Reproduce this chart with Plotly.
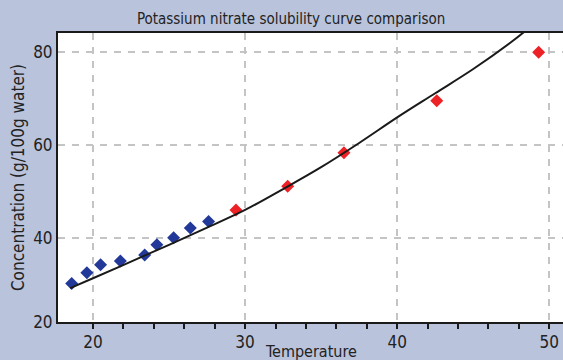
import plotly.graph_objects as go

# Data
temp_blue = [18.6, 19.6, 20.5, 21.8, 23.4, 24.2, 25.3, 26.4, 27.6]
conc_blue = [30.3, 32.6, 34.3, 35.1, 36.4, 38.6, 40.1, 42.2, 43.6]
temp_red = [29.4, 32.8, 36.5, 42.6, 49.3]
conc_red = [46.1, 51.2, 58.4, 69.6, 80.0]
curve_temp = [18.5, 20, 22.5, 25, 27.5, 30, 32.5, 35, 37.5, 40, 42.5, 45, 47.5, 48.5]
curve_conc = [29.3, 31.4, 35.0, 38.6, 42.3, 46.1, 50.6, 55.3, 60.5, 66.0, 71.2, 76.4, 82.2, 84.8]

x_major = [20, 30, 40, 50]
x_minor = [20, 22, 24, 26, 28, 30, 32, 34, 36, 38, 40, 42, 44, 46, 48, 50]
y_ticks = [22.0, 40, 60, 80]
y_ticktext = ["20", "40", "60", "80"]
x_range = [17.7, 50.9]
y_range = [22.0, 84.15]

FONT = "Liberation Sans Narrow, DejaVu Sans Condensed, Arial Narrow, sans-serif"
BG = "#b9c3dc"

W, H = 563, 360
M = dict(l=58, r=0, t=33, b=38)
plot_h = H - M["t"] - M["b"]

fig = go.Figure()
fig.add_trace(go.Scatter(x=temp_blue, y=conc_blue, mode="markers",
                         marker=dict(symbol="diamond", size=10, color="#22399a"),
                         showlegend=False))
fig.add_trace(go.Scatter(x=temp_red, y=conc_red, mode="markers",
                         marker=dict(symbol="diamond", size=10, color="#ec2227"),
                         showlegend=False))
fig.add_trace(go.Scatter(x=curve_temp, y=curve_conc, mode="lines",
                         line=dict(color="#1a1a1a", width=2, shape="spline"),
                         showlegend=False))

fig.update_layout(
    width=W, height=H,
    margin=M,
    paper_bgcolor=BG, plot_bgcolor="white",
    font=dict(family=FONT, size=17, color="#222222"),
    title=dict(text="Potassium nitrate solubility curve comparison",
               x=0.517, xref="container", xanchor="center",
               y=1 - 19 / H, yref="container", yanchor="middle",
               font=dict(family=FONT, size=15, color="#222222")),
    annotations=[dict(text="Temperature", xref="paper", yref="paper",
                      x=0.5, y=-(351.5 - (H - M["b"])) / plot_h,
                      xanchor="center", yanchor="middle", showarrow=False,
                      font=dict(family=FONT, size=16, color="#222222"))],
)
fig.update_xaxes(
    range=x_range, tickvals=x_major, ticks="", ticklabelstandoff=4,
    showgrid=True, gridcolor="#c4c4c4", gridwidth=1.5, griddash="7px,7px",
    showline=True, linecolor="#1a1a1a", linewidth=2, mirror=True,
    zeroline=False, automargin=False,
    minor=dict(tickvals=x_minor, ticks="outside", ticklen=5, tickwidth=2,
               tickcolor="#1a1a1a", showgrid=False),
    tickfont=dict(size=17),
)
fig.update_yaxes(
    range=y_range, tickvals=y_ticks, ticktext=y_ticktext, ticks="",
    showgrid=True, gridcolor="#c4c4c4", gridwidth=1.5, griddash="7px,7px",
    showline=True, linecolor="#1a1a1a", linewidth=2, mirror=False,
    zeroline=False, automargin=False,
    title=dict(text="Concentration (g/100g water)", standoff=4, font=dict(size=17)),
    tickfont=dict(size=17),
)

fig.write_html("out.html")
